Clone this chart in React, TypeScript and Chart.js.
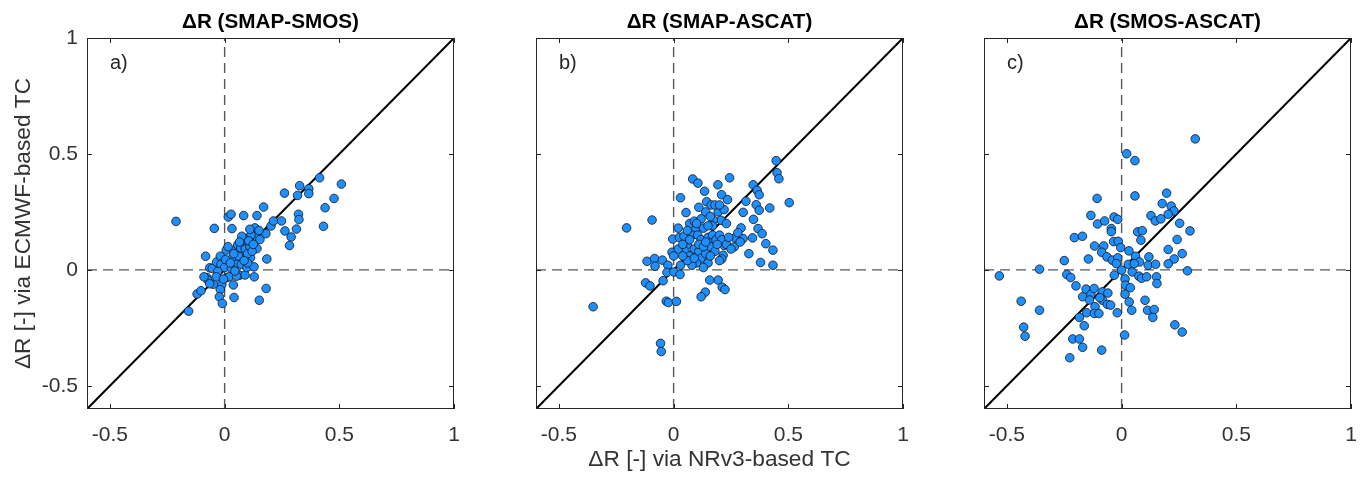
import React, { useEffect, useRef } from "react";
import { Chart, registerables } from "chart.js";

Chart.register(...registerables);

// ---------- data ----------
const panelTitles = ["ΔR (SMAP-SMOS)", "ΔR (SMAP-ASCAT)", "ΔR (SMOS-ASCAT)"];
const panelLetters = ["a)", "b)", "c)"];
const yAxisTitle = "ΔR [-] via ECMWF-based TC";
const xAxisTitle = "ΔR [-] via NRv3-based TC";

const tickValues = [-0.5, 0, 0.5, 1];
const tickLabels = ["-0.5", "0", "0.5", "1"];
const axisMin = -0.6;
const axisMax = 1;

const diagX = [-0.6, 1];
const diagY = [-0.6, 1];
const zeroSpan = [-0.6, 1];

// panel a) SMAP-SMOS
const aX = [-0.212, -0.157, -0.12, -0.103, -0.083, -0.045, -0.065, -0.054, -0.077, -0.073, -0.049, -0.035, -0.019, 0.007, 0.016, 0.028, 0.032, 0.083, 0.141, 0.17, -0.016, 0.0, 0.01, -0.012, -0.019, -0.023, -0.01, 0.038, 0.041, 0.032, 0.048, 0.057, 0.054, 0.073, 0.065, 0.089, 0.081, 0.087, 0.097, 0.102, 0.113, 0.122, 0.128, 0.129, 0.132, 0.136, 0.141, 0.154, 0.151, 0.18, 0.184, 0.181, 0.202, 0.213, 0.248, 0.261, 0.263, 0.29, 0.283, 0.313, 0.322, 0.324, 0.318, 0.327, 0.367, 0.367, 0.414, 0.431, 0.438, 0.477, 0.509, 0.029, 0.02, 0.052, -0.03, 0.004, -0.036, 0.025, 0.06, 0.07, 0.09, 0.11, 0.095, 0.115, 0.1, 0.075, 0.12, 0.045, -0.005, 0.015, 0.11, 0.15, 0.1, -0.065, -0.09, 0.065, 0.105, 0.125, 0.04, 0.085];
const aY = [0.209, -0.178, -0.104, -0.09, 0.059, 0.179, 0.009, 0.006, -0.033, -0.044, -0.062, 0.034, 0.059, 0.085, 0.228, 0.24, 0.178, 0.234, 0.234, 0.271, 0.024, 0.01, -0.033, -0.062, -0.085, -0.116, -0.145, -0.065, -0.119, 0.049, 0.085, 0.108, 0.024, 0.024, -0.023, -0.022, 0.062, 0.133, 0.01, 0.113, 0.052, 0.133, 0.013, -0.03, 0.181, 0.145, 0.092, 0.131, -0.131, 0.156, 0.047, -0.08, 0.189, 0.211, 0.211, 0.331, 0.168, 0.142, 0.105, 0.176, 0.24, 0.217, 0.321, 0.363, 0.35, 0.329, 0.397, 0.188, 0.268, 0.308, 0.37, 0.006, -0.03, -0.027, -0.007, 0.044, -0.03, 0.03, 0.06, 0.095, 0.09, 0.1, 0.135, 0.15, 0.07, 0.145, 0.08, -0.005, -0.04, 0.1, 0.175, 0.17, 0.03, -0.06, -0.03, 0.12, 0.125, 0.11, 0.07, 0.04];

// panel b) SMAP-ASCAT
const bX = [-0.351, -0.205, -0.094, -0.057, -0.054, -0.122, -0.103, -0.046, -0.032, -0.023, 0.012, -0.116, -0.083, -0.081, -0.049, -0.025, -0.029, 0.001, 0.028, -0.007, -0.004, 0.03, 0.054, 0.083, 0.106, 0.135, 0.144, 0.164, 0.193, 0.209, 0.235, 0.244, 0.194, 0.207, 0.173, 0.22, 0.303, 0.315, 0.347, 0.364, 0.373, 0.36, 0.373, 0.419, 0.447, 0.451, 0.459, 0.504, 0.348, 0.368, 0.386, 0.402, 0.433, 0.379, 0.433, 0.328, 0.344, 0.294, 0.303, 0.268, 0.264, 0.22, 0.216, 0.21, 0.194, 0.212, 0.224, 0.157, 0.138, 0.12, 0.025, 0.045, 0.06, 0.07, 0.09, 0.095, 0.08, 0.105, 0.12, 0.13, 0.15, 0.165, 0.17, 0.185, 0.2, 0.21, 0.23, 0.05, 0.07, 0.09, 0.11, 0.12, 0.14, 0.15, 0.16, 0.18, 0.2, 0.1, 0.08, 0.06, 0.04, 0.02, 0.0, 0.03, 0.13, 0.17, 0.14, 0.16, 0.18, 0.2, 0.12, 0.1, 0.06, 0.04, 0.11, 0.13, 0.19, 0.24, 0.25, 0.28, 0.29, 0.07, 0.15, 0.23, 0.11, 0.02, 0.09, 0.16, 0.14];
const bY = [-0.159, 0.181, 0.215, -0.317, -0.352, -0.056, -0.069, -0.047, -0.135, -0.141, -0.136, 0.037, 0.049, 0.016, 0.042, 0.02, -0.011, -0.009, -0.02, 0.076, 0.133, 0.311, 0.247, 0.392, 0.374, 0.339, 0.294, 0.28, 0.367, 0.324, 0.303, 0.397, 0.25, 0.214, 0.214, 0.26, 0.248, 0.296, 0.367, 0.343, 0.324, 0.281, 0.257, 0.267, 0.471, 0.419, 0.393, 0.29, 0.218, 0.178, 0.156, 0.113, 0.085, 0.032, 0.02, 0.07, 0.138, 0.181, 0.135, 0.138, 0.099, 0.105, 0.063, 0.047, -0.044, -0.075, -0.085, -0.044, -0.096, -0.116, 0.14, 0.145, 0.11, 0.2, 0.21, 0.17, 0.15, 0.15, 0.13, 0.18, 0.14, 0.12, 0.15, 0.13, 0.15, 0.13, 0.11, 0.08, 0.06, 0.09, 0.08, 0.05, 0.07, 0.03, 0.1, 0.08, 0.04, 0.03, 0.02, 0.04, 0.06, 0.09, 0.06, 0.02, 0.01, 0.19, 0.25, 0.23, 0.28, 0.28, 0.22, 0.2, 0.17, 0.11, 0.11, 0.1, 0.11, 0.14, 0.09, 0.16, 0.12, 0.13, 0.19, 0.2, 0.27, 0.18, 0.05, 0.06, 0.12];

// panel c) SMOS-ASCAT
const cX = [-0.533, -0.358, -0.438, -0.358, -0.427, -0.421, -0.25, -0.239, -0.222, -0.199, -0.226, -0.213, -0.184, -0.17, -0.087, -0.184, -0.163, -0.152, -0.17, -0.155, -0.134, -0.12, -0.116, -0.119, -0.099, -0.084, -0.083, -0.062, -0.048, -0.019, 0.013, -0.206, -0.171, -0.134, -0.107, -0.105, -0.074, -0.045, -0.033, -0.017, -0.118, -0.078, -0.087, -0.145, -0.064, -0.035, -0.015, -0.004, -0.041, -0.017, -0.023, -0.032, 0.0, 0.022, 0.058, 0.058, 0.032, 0.029, 0.046, 0.015, 0.017, 0.015, 0.038, 0.033, 0.044, 0.061, 0.078, 0.055, 0.075, 0.087, 0.109, 0.07, 0.09, 0.084, 0.119, 0.116, 0.148, 0.152, 0.154, 0.102, 0.113, 0.142, 0.136, 0.232, 0.264, 0.128, 0.147, 0.171, 0.177, 0.196, 0.216, 0.228, 0.203, 0.253, 0.298, 0.242, 0.203, 0.229, 0.264, 0.203, 0.287, 0.321, -0.045, -0.06, -0.095, -0.14];
const cY = [-0.026, 0.003, -0.135, -0.174, -0.247, -0.286, 0.04, -0.02, -0.033, -0.069, -0.379, -0.298, -0.298, -0.334, -0.346, -0.205, -0.241, -0.185, -0.116, -0.083, -0.106, -0.08, -0.159, -0.188, -0.188, -0.095, -0.131, -0.149, -0.152, -0.185, -0.281, 0.139, 0.145, 0.235, 0.308, 0.198, 0.211, 0.178, 0.228, 0.218, 0.103, 0.103, 0.076, 0.047, 0.056, 0.122, 0.123, 0.096, 0.042, 0.052, 0.027, -0.023, -0.001, 0.501, 0.471, 0.319, 0.082, 0.024, -0.009, -0.039, -0.066, -0.105, -0.077, -0.138, -0.174, 0.059, 0.034, 0.027, -0.027, -0.036, -0.03, 0.164, 0.169, 0.128, 0.056, 0.02, 0.024, -0.03, -0.059, -0.131, -0.174, -0.171, -0.205, -0.237, -0.268, 0.234, 0.211, 0.22, 0.286, 0.331, 0.275, 0.254, 0.24, 0.201, 0.168, 0.131, 0.088, 0.047, 0.07, 0.026, -0.004, 0.565, 0.165, -0.1, -0.12, -0.13];

const panelX = [aX, bX, cX];
const panelY = [aY, bY, cY];

// ---------- styling ----------
const FONT = '"Liberation Sans", Arial, Helvetica, sans-serif';
const AXIS_COLOR = "#262626";
const TEXT_COLOR = "#333333";
const CANVAS_W = 474;
const CANVAS_H = 483;
const CANVAS_LEFTS = [0, 449, 897];

const framePlugin = {
  id: "frame",
  afterDatasetsDraw(chart: any, _args: any, opts: any) {
    const { ctx, chartArea, scales } = chart;
    const { left, right, top, bottom } = chartArea;
    const x = scales.x;
    const y = scales.y;
    ctx.save();
    ctx.strokeStyle = AXIS_COLOR;
    ctx.lineWidth = 1;
    ctx.strokeRect(left + 0.5, top + 0.5, right - left - 1, bottom - top - 1);
    const tl = 5;
    ctx.beginPath();
    for (const v of tickValues) {
      const px = Math.round(x.getPixelForValue(v)) + 0.5;
      ctx.moveTo(px, bottom);
      ctx.lineTo(px, bottom - tl);
      ctx.moveTo(px, top);
      ctx.lineTo(px, top + tl);
      const py = Math.round(y.getPixelForValue(v)) + 0.5;
      ctx.moveTo(left, py);
      ctx.lineTo(left + tl, py);
      ctx.moveTo(right, py);
      ctx.lineTo(right - tl, py);
    }
    ctx.stroke();
    ctx.font = `20px ${FONT}`;
    ctx.fillStyle = AXIS_COLOR;
    ctx.textAlign = "left";
    ctx.textBaseline = "middle";
    ctx.fillText(opts.letter, x.getPixelForValue(-0.5), y.getPixelForValue(0.89));
    ctx.restore();
  },
};

function Panel({ idx }: { idx: number }) {
  const ref = useRef<HTMLCanvasElement | null>(null);
  useEffect(() => {
    if (!ref.current) return;
    const xs = panelX[idx];
    const ys = panelY[idx];
    const pts = xs.map((v, i) => ({ x: v, y: ys[i] }));
    const chart = new Chart(ref.current, {
      type: "scatter",
      data: {
        datasets: [
          {
            type: "scatter",
            data: pts,
            pointRadius: 4.3,
            pointHoverRadius: 4.3,
            backgroundColor: "#1E8FFF",
            borderColor: "#141414",
            borderWidth: 0.8,
          } as any,
          {
            type: "line",
            data: diagX.map((v, i) => ({ x: v, y: diagY[i] })),
            borderColor: "#000000",
            borderWidth: 2,
            pointRadius: 0,
            showLine: true,
          } as any,
          {
            type: "line",
            data: zeroSpan.map((v) => ({ x: v, y: 0 })),
            borderColor: "#5a5a5a",
            borderWidth: 1.4,
            borderDash: [10, 6],
            pointRadius: 0,
            showLine: true,
          } as any,
          {
            type: "line",
            data: zeroSpan.map((v) => ({ x: 0, y: v })),
            borderColor: "#5a5a5a",
            borderWidth: 1.4,
            borderDash: [10, 6],
            pointRadius: 0,
            showLine: true,
          } as any,
        ],
      },
      options: {
        animation: false,
        responsive: false,
        devicePixelRatio: 1,
        events: [],
        layout: { padding: { left: 0, right: 20, top: 0, bottom: 0 } },
        plugins: {
          legend: { display: false },
          tooltip: { enabled: false },
          title: {
            display: true,
            text: panelTitles[idx],
            fullSize: false,
            color: "#000000",
            font: { family: FONT, size: 20.7, weight: "bold", lineHeight: 1.2 },
            padding: { top: 9.6, bottom: 3.56 },
          },
          frame: { letter: panelLetters[idx] },
        } as any,
        scales: {
          x: {
            type: "linear",
            min: axisMin,
            max: axisMax,
            afterBuildTicks: (s: any) => {
              s.ticks = tickValues.map((v) => ({ value: v }));
            },
            afterFit: (s: any) => {
              s.height = 74;
            },
            grid: { display: false, drawTicks: false },
            border: { display: false },
            ticks: {
              autoSkip: false,
              maxRotation: 0,
              padding: 14,
              color: TEXT_COLOR,
              font: { family: FONT, size: 21, lineHeight: 1.2 },
              callback: (v: any) => tickLabels[tickValues.indexOf(Number(v))],
            },
            title: {
              display: idx === 1,
              text: xAxisTitle,
              color: TEXT_COLOR,
              font: { family: FONT, size: 22.7, lineHeight: 1.2 },
              padding: { top: 0, bottom: 10 },
            },
          },
          y: {
            type: "linear",
            min: axisMin,
            max: axisMax,
            afterBuildTicks: (s: any) => {
              s.ticks = tickValues.map((v) => ({ value: v }));
            },
            afterFit: (s: any) => {
              s.width = 87;
            },
            grid: { display: false, drawTicks: false },
            border: { display: false },
            ticks: {
              display: idx === 0,
              autoSkip: false,
              padding: 9,
              color: TEXT_COLOR,
              font: { family: FONT, size: 21, lineHeight: 1.2 },
              callback: (v: any) => tickLabels[tickValues.indexOf(Number(v))],
            },
            title: {
              display: idx === 0,
              text: yAxisTitle,
              color: TEXT_COLOR,
              font: { family: FONT, size: 22.7, lineHeight: 1.2 },
              padding: { top: 10.4, bottom: 0 },
            },
          },
        },
      },
      plugins: [framePlugin],
    });
    return () => chart.destroy();
  }, [idx]);
  return (
    <canvas
      ref={ref}
      width={CANVAS_W}
      height={CANVAS_H}
      style={{
        position: "absolute",
        left: CANVAS_LEFTS[idx],
        top: 0,
        width: CANVAS_W,
        height: CANVAS_H,
      }}
    />
  );
}

export default function App() {
  return (
    <div
      style={{
        position: "absolute",
        left: 0,
        top: 0,
        width: 1370,
        height: 483,
        background: "#ffffff",
        overflow: "hidden",
      }}
    >
      <Panel idx={0} />
      <Panel idx={1} />
      <Panel idx={2} />
    </div>
  );
}
